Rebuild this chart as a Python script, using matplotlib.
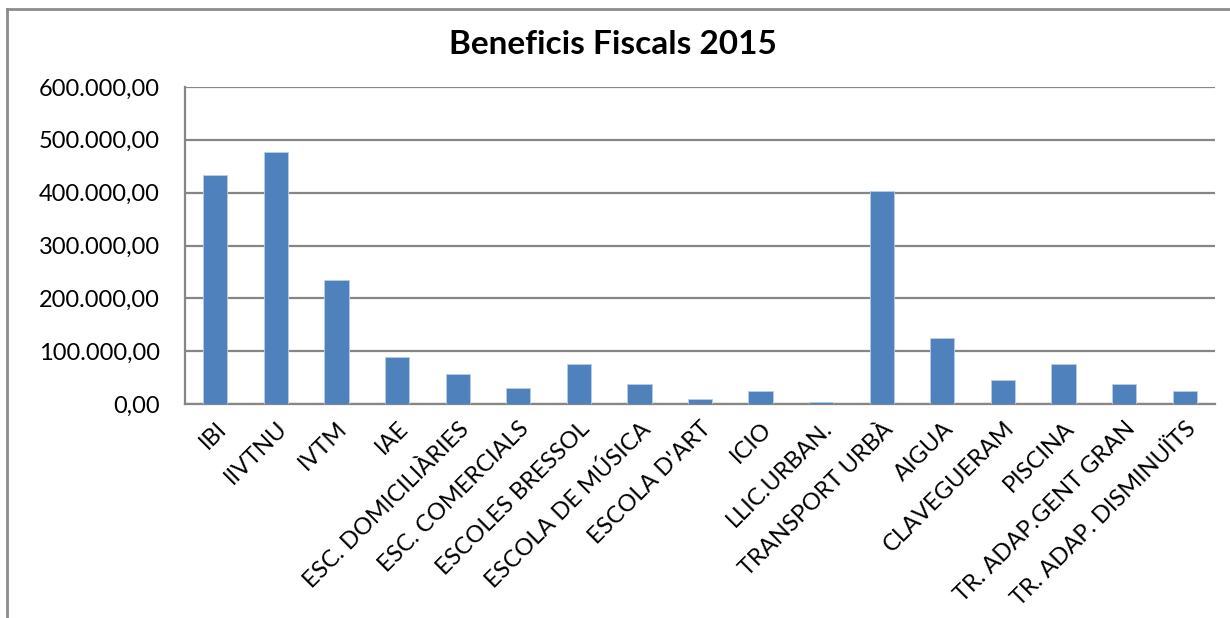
import numpy as np
import matplotlib.pyplot as plt
from matplotlib.ticker import FuncFormatter
from matplotlib.lines import Line2D

categories = ['IBI', 'IIVTNU', 'IVTM', 'IAE', 'ESC. DOMICILIÀRIES', 'ESC. COMERCIALS',
              'ESCOLES BRESSOL', 'ESCOLA DE MÚSICA', "ESCOLA D'ART", 'ICIO', 'LLIC.URBAN.',
              'TRANSPORT URBÀ', 'AIGUA', 'CLAVEGUERAM', 'PISCINA', 'TR. ADAP.GENT GRAN',
              'TR. ADAP. DISMINUÏTS']
values = [433000, 477000, 234000, 89000, 56000, 30000, 75000, 38600, 10000, 25000,
          4400, 402500, 124700, 45000, 76600, 38600, 24700]
yticks = [0, 100000, 200000, 300000, 400000, 500000, 600000]

plt.rcParams['font.family'] = ['Lato', 'DejaVu Sans']

fig = plt.figure(figsize=(12.3, 6.18), dpi=100)
ax = fig.add_axes([185/1230, 1 - 404/618, (1215-185)/1230, (404-87)/618])

x = np.arange(len(categories))
ax.bar(x, values, width=0.4, color='#4f81bd', edgecolor='#b9cde5', linewidth=0.6, zorder=3)

ax.set_xlim(-0.5, len(categories) - 0.5)
ax.set_ylim(0, 600000)
ax.set_yticks(yticks)
ax.yaxis.set_major_formatter(FuncFormatter(
    lambda v, p: f'{v:,.2f}'.replace(',', 'X').replace('.', ',').replace('X', '.')))
ax.grid(axis='y', color='#868686', linewidth=1.6, zorder=0)
ax.set_xticks(x)
ax.set_xticklabels(categories, rotation=45, ha='right', rotation_mode='anchor')
ax.tick_params(axis='both', length=0, labelsize=17, colors='black')
ax.tick_params(axis='y', pad=18)
ax.tick_params(axis='x', pad=10)

for s in ['top', 'right']:
    ax.spines[s].set_visible(False)
for s in ['left', 'bottom']:
    ax.spines[s].set_color('#868686')
    ax.spines[s].set_linewidth(1.6)

fig.text(613/1230, 1 - 45/618, 'Beneficis Fiscals 2015', ha='center', va='center',
         fontsize=24, fontweight='bold')

# chart area border (left and top edges only visible)
fig.add_artist(Line2D([7/1230, 7/1230], [0, 1 - 9/618], color='#8c8c8c', linewidth=2,
                      transform=fig.transFigure))
fig.add_artist(Line2D([7/1230, 1], [1 - 9/618, 1 - 9/618], color='#8c8c8c', linewidth=2,
                      transform=fig.transFigure))

fig.savefig('out.png', dpi=100)
